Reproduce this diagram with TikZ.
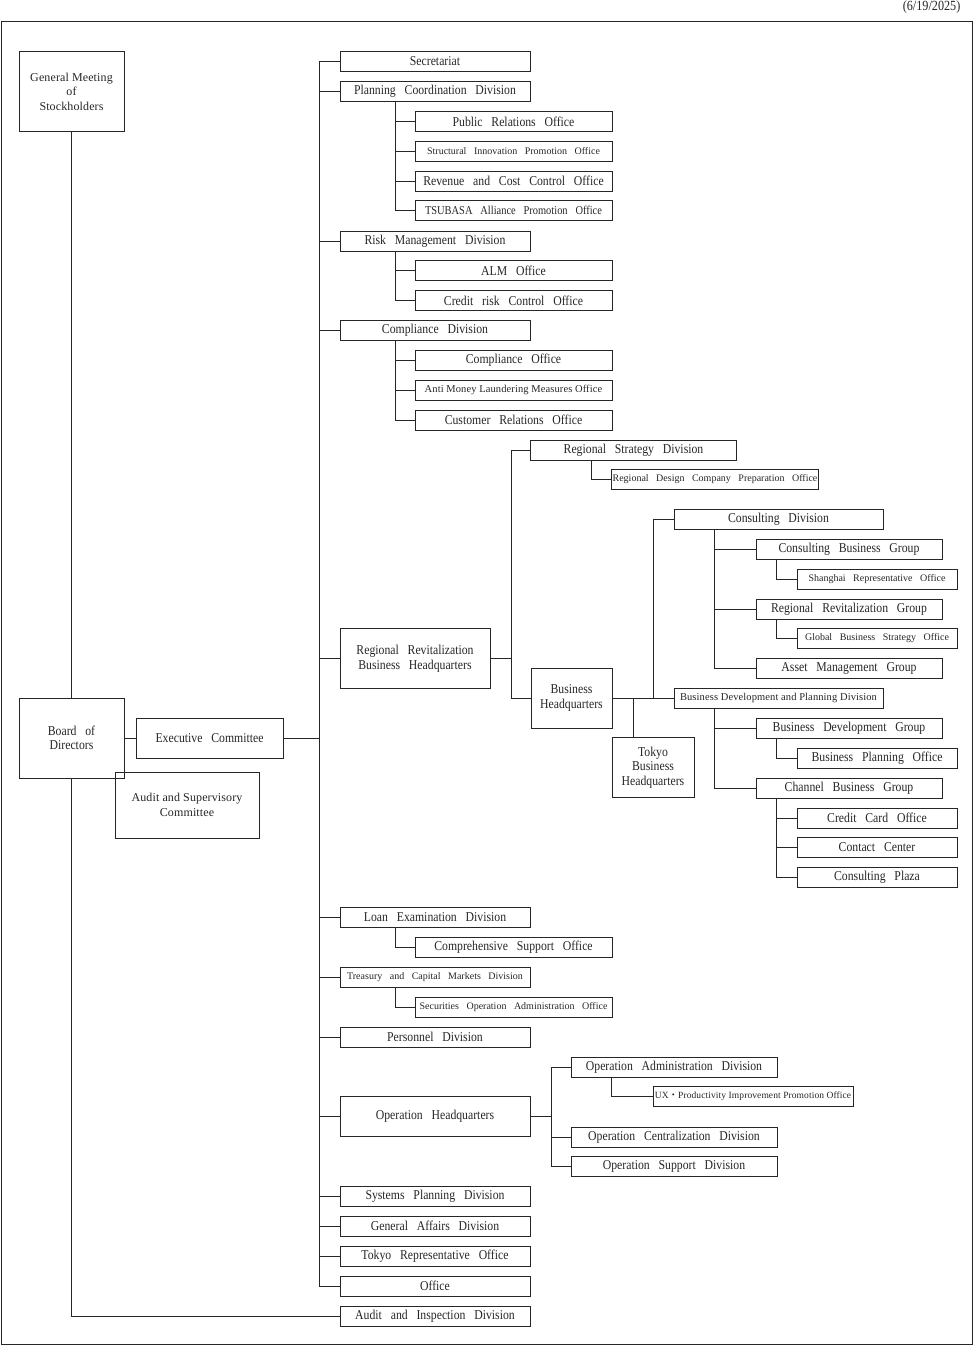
\documentclass[tikz,border=0pt]{standalone}
\usepackage{fontspec}
\setmainfont{Liberation Serif}[FakeStretch=0.87,WordSpace=3]
\newfontfamily\widefam{Liberation Serif}[WordSpace=3]
\newfontfamily\plainfam{Liberation Serif}[LetterSpace=1]
\newfontfamily\cjk{Noto Sans CJK JP}
\usetikzlibrary{calc,positioning}

\begin{document}
\begin{tikzpicture}[x=1pt,y=-1pt,line width=0.7pt,color=black!85,
  box/.style={draw,inner sep=1pt,minimum height=20pt,align=center,font=\fontsize{13.5}{14.5}\selectfont},
  smallfont/.style={font=\widefam\fontsize{10}{12}\selectfont},
  narrowfont/.style={font=\plainfam\fontsize{10.5}{12}\selectfont},
  plainfont/.style={font=\plainfam\fontsize{12}{14.5}\selectfont},
  divw/.style={minimum width=190pt},
  subw/.style={minimum width=197pt},
  grpw/.style={minimum width=186pt},
  ofw/.style={minimum width=160pt},
  secw/.style={minimum width=206pt}]
\useasboundingbox (0,0) rectangle (974,1346);
\draw (1,21) rectangle (972,1344);
\node[anchor=east,font=\fontsize{14}{16}\selectfont] (date) at (964,7) {(6/19/2025)};
% left side
\node[box,plainfont,minimum width=105pt,minimum height=80pt] (gm) at (71.5,91.5) {General Meeting\\of\\Stockholders};
\node[box,minimum width=105pt,minimum height=80pt] (bod) at (71.5,738) {Board of\\Directors};
\node[box,minimum width=147pt,minimum height=40pt] (exec) at (209.5,738) {Executive Committee};
\node[box,plainfont,minimum width=144pt,minimum height=66pt] (asc) at (187,805) {Audit and Supervisory\\Committee};
% divisions
\node[box,divw] (secr) at (435,61.5) {Secretariat};
\node[box,divw] (plan) at (435,91) {Planning Coordination Division};
\node[box,subw] (pr) at (513.5,121.5) {Public Relations Office};
\node[box,subw,smallfont] (sip) at (513.5,151) {Structural Innovation Promotion Office};
\node[box,subw] (rcc) at (513.5,181) {Revenue and Cost Control Office};
\node[box,subw,font=\fontsize{12}{14}\selectfont] (tsu) at (513.5,210.5) {TSUBASA Alliance Promotion Office};
\node[box,divw] (risk) at (435,241) {Risk Management Division};
\node[box,subw] (alm) at (513.5,270.5) {ALM Office};
\node[box,subw] (crc) at (513.5,300.5) {Credit risk Control Office};
\node[box,divw] (comp) at (435,330.5) {Compliance Division};
\node[box,subw] (co) at (513.5,360.5) {Compliance Office};
\node[box,subw,narrowfont] (aml) at (513.5,390) {Anti Money Laundering Measures Office};
\node[box,subw] (cr) at (513.5,420) {Customer Relations Office};
% regional revitalization
\node[box,minimum width=150pt,minimum height=60pt] (rrbh) at (415,658.5) {Regional Revitalization\\Business Headquarters};
\node[box,secw] (rsd) at (633.5,450) {Regional Strategy Division};
\node[box,secw,smallfont] (rdc) at (715,479.5) {Regional Design Company Preparation Office};
\node[box,minimum width=81pt,minimum height=60pt] (bhq) at (571.5,698) {Business\\Headquarters};
\node[box,minimum width=82pt,minimum height=60pt] (tbhq) at (653,767.5) {Tokyo\\Business\\Headquarters};
\node[box,minimum width=209pt] (cd) at (778.5,519.5) {Consulting Division};
\node[box,grpw] (cbg) at (849,549.5) {Consulting Business Group};
\node[box,ofw,smallfont] (sro) at (877,579) {Shanghai Representative Office};
\node[box,grpw] (rrg) at (849,609) {Regional Revitalization Group};
\node[box,ofw,smallfont] (gbs) at (877,638.5) {Global Business Strategy Office};
\node[box,grpw] (amg) at (849,668.5) {Asset Management Group};
\node[box,minimum width=209pt,narrowfont] (bdp) at (778.5,698) {Business Development and Planning Division};
\node[box,grpw] (bdg) at (849,728.5) {Business Development Group};
\node[box,ofw] (bpo) at (877,758) {Business Planning Office};
\node[box,grpw] (chg) at (849,788) {Channel Business Group};
\node[box,ofw] (cco) at (877,818) {Credit Card Office};
\node[box,ofw] (cc) at (877,847.5) {Contact Center};
\node[box,ofw] (cp) at (877,877.5) {Consulting Plaza};
% lower divisions
\node[box,divw] (loan) at (435,917.5) {Loan Examination Division};
\node[box,subw] (cso) at (513.5,947) {Comprehensive Support Office};
\node[box,divw,smallfont] (treas) at (435,977) {Treasury and Capital Markets Division};
\node[box,subw,smallfont] (soa) at (513.5,1007) {Securities Operation Administration Office};
\node[box,divw] (pers) at (435,1037) {Personnel Division};
\node[box,divw,minimum height=40pt] (ophq) at (435,1116.5) {Operation Headquarters};
\node[box,secw] (oad) at (674,1067) {Operation Administration Division};
\node[box,minimum width=200pt,font=\plainfam\fontsize{9.5}{11}\selectfont] (ux) at (753,1096.5) {UX{\cjk ・}Productivity Improvement Promotion Office};
\node[box,secw] (ocd) at (674,1137) {Operation Centralization Division};
\node[box,secw] (osd) at (674,1166.5) {Operation Support Division};
\node[box,divw] (sys) at (435,1196.5) {Systems Planning Division};
\node[box,divw] (ga) at (435,1226) {General Affairs Division};
\node[box,divw] (tro) at (435,1256) {Tokyo Representative Office};
\node[box,divw] (off) at (435,1286) {Office};
\node[box,divw] (aud) at (435,1316) {Audit and Inspection Division};
% trunk
\coordinate (t) at (319,0);
\draw (gm) -- (bod);
\draw (bod.east) -- (exec.west);
\draw (exec.east) -- (exec.east -| t);
\draw (secr.west -| t) -- (off.west -| t);
\foreach \n in {secr,plan,risk,comp,rrbh,loan,treas,pers,ophq,sys,ga,tro,off}
  \draw (\n.west -| t) -- (\n.west);
\draw (bod.south) |- (aud.west);
% offices under divisions
\foreach \p/\c in {plan/pr,plan/sip,plan/rcc,plan/tsu,risk/alm,risk/crc,comp/co,comp/aml,comp/cr,loan/cso,treas/soa}
  \draw ([xshift=56pt]\p.south west) |- (\c.west);
% regional revitalization
\draw (rrbh.east) -- ++(21,0) coordinate (r);
\foreach \c in {rsd,bhq}
  \draw (r) |- (\c.west);
\draw ([xshift=61pt]rsd.south west) |- (rdc.west);
\draw (bhq.east) -- (bdp.west);
\draw ([xshift=-20pt]bdp.west) |- (cd.west);
\draw ([xshift=21pt]bhq.east) -- ([xshift=21pt]bhq.east |- tbhq.north);
\foreach \p/\c in {cd/cbg,cd/rrg,cd/amg,bdp/bdg,bdp/chg}
  \draw ([xshift=41pt]\p.south west) |- (\c.west);
\foreach \p/\c in {cbg/sro,rrg/gbs,bdg/bpo,chg/cco,chg/cc,chg/cp}
  \draw ([xshift=21pt]\p.south west) |- (\c.west);
% operation
\draw (ophq.east) -- ++(21,0) coordinate (o);
\foreach \c in {oad,ocd,osd}
  \draw (o) |- (\c.west);
\draw ([xshift=41pt]oad.south west) |- (ux.west);
\end{tikzpicture}
\end{document}
